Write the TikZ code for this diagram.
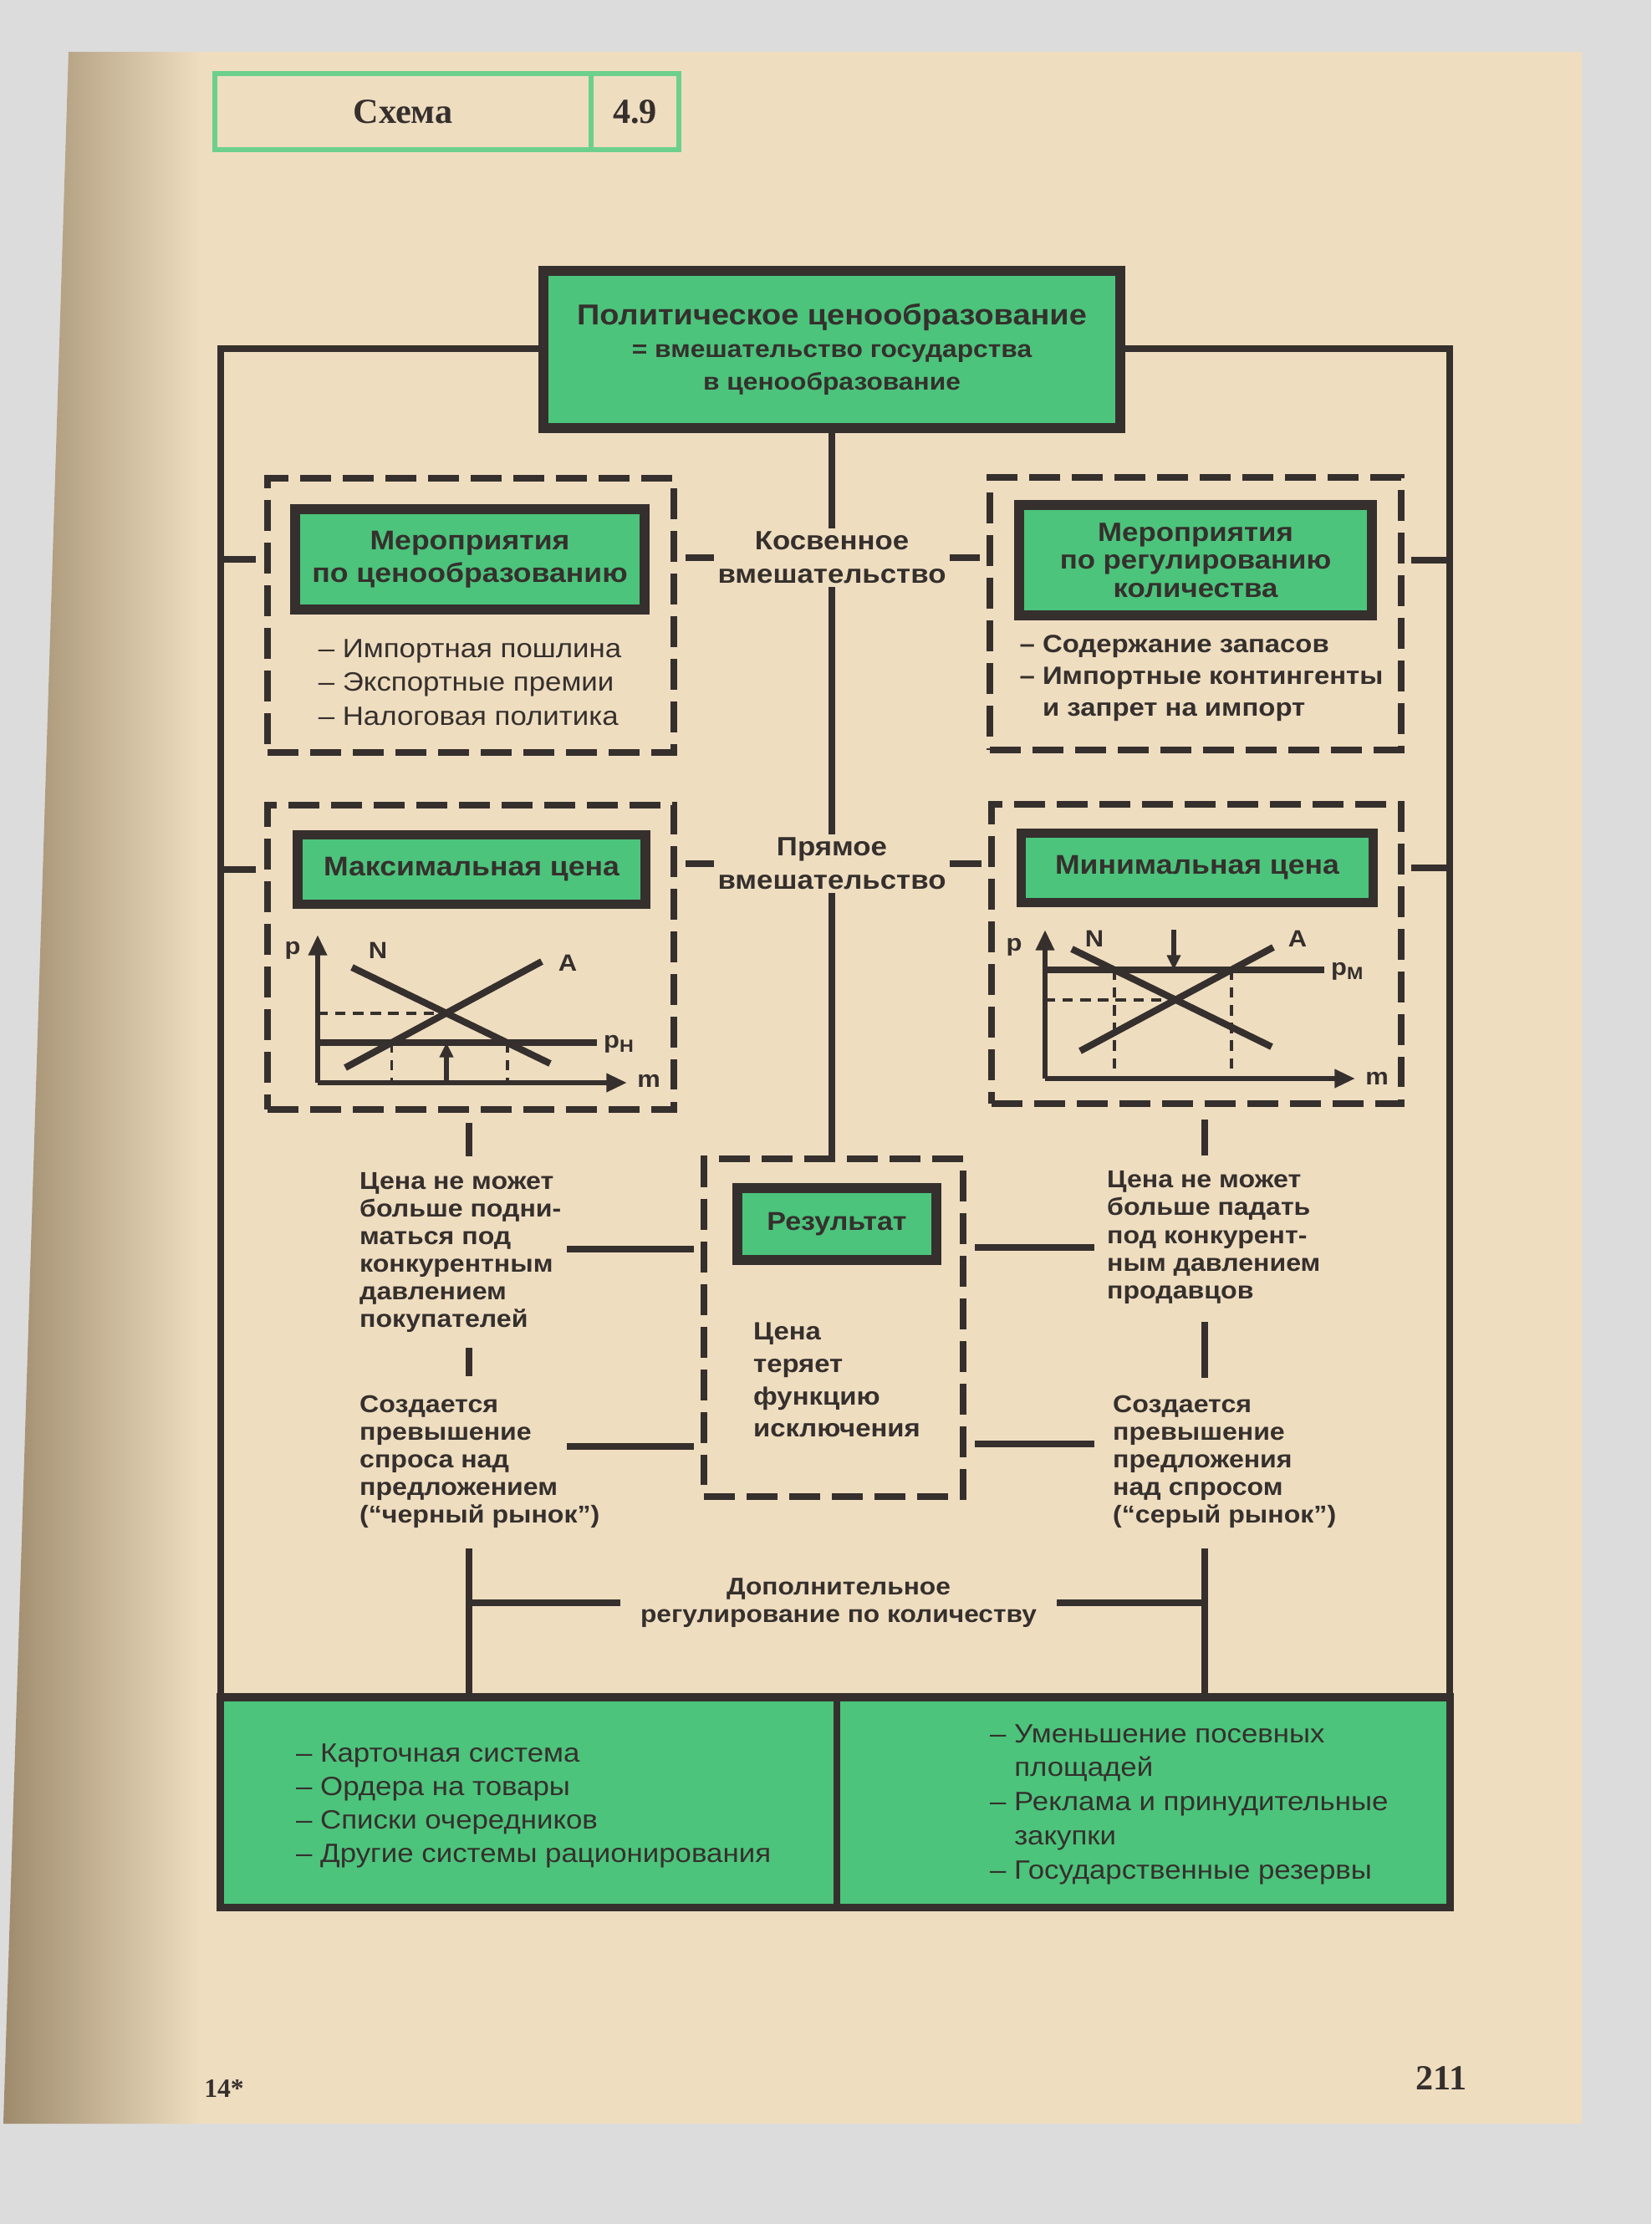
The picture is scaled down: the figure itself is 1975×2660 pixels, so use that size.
\documentclass[tikz,border=0pt]{standalone}
\usepackage{fontspec}
\setmainfont{Liberation Sans}[FakeStretch=1.1]
\newfontfamily\serifcab{Liberation Serif}
\usetikzlibrary{arrows.meta, positioning}
\definecolor{colorVerde}{HTML}{4CC47C}
\definecolor{colorCabecera}{HTML}{6CD08C}
\definecolor{colorPapel}{HTML}{EFDDC0}
\definecolor{colorSombra}{HTML}{9E8B6E}
\definecolor{colorFondo}{HTML}{DCDCDC}
\definecolor{colorTinta}{HTML}{35302D}

\begin{document}
\begin{tikzpicture}[x=0.01cm, y=-0.01cm,
        every node/.style={text=colorTinta, inner sep=1pt},
        caja/.style={draw=colorTinta, fill=colorVerde, line width=3.3pt, align=center,
            font=\bfseries\fontsize{9.2}{11}\selectfont},
        zona/.style={draw=colorTinta, line width=2.3pt, dash pattern=on 10.5pt off 4pt},
        rel/.style={colorTinta, line width=2.3pt},
        etiq/.style={align=center, font=\bfseries\fontsize{9}{11.4}\selectfont},
        texto/.style={align=left, font=\bfseries\fontsize{8.3}{9.4}\selectfont},
        lista/.style={align=left, font=\fontsize{9}{11.4}\selectfont},
        eje/.style={colorTinta, line width=1.8pt, -{Triangle[length=7pt, width=6pt]}},
        curva/.style={colorTinta, line width=2.3pt},
        guia/.style={colorTinta, line width=1.1pt, dash pattern=on 3.5pt off 2.5pt},
        flecha/.style={colorTinta, line width=1.5pt, -{Triangle[length=5pt, width=4.5pt]}},
        marca/.style={font=\bfseries\fontsize{8}{9}\selectfont}
    ]
    % fondo y pagina
    \fill[colorFondo] (0,0) rectangle (1975,2660);
    \fill[colorPapel] (82,62) -- (1892,62) -- (1892,2540) -- (4,2540) -- cycle;
    \shade[left color=colorSombra, right color=colorPapel] (82,62) -- (240,62) -- (240,2540) -- (4,2540) -- cycle;

    % cabecera
    \node[draw=colorCabecera, line width=1.5pt, minimum width=4.5cm, minimum height=0.91cm,
        font=\serifcab\bfseries\fontsize{12}{14}\selectfont] (esquema) at (482,133.5) {Схема};
    \node[draw=colorCabecera, line width=1.5pt, minimum width=1.05cm, minimum height=0.91cm,
        font=\serifcab\bfseries\fontsize{12}{14}\selectfont] (numero) at (759.5,133.5) {4.9};

    % cajas
    \node[caja, minimum width=6.9cm, minimum height=1.88cm, font=\bfseries\fontsize{8.2}{11}\selectfont] (polit) at (995,418)
        {{\fontsize{9.8}{11}\selectfont Политическое ценообразование}\\= вмешательство государства\\в ценообразование};

    \node[zona, minimum width=4.86cm, minimum height=3.27cm] (zonaPrecio) at (563,736) {};
    \node[caja, minimum width=4.18cm, minimum height=1.2cm] (mPrecio) at (562,669) {Мероприятия\\по ценообразованию};
    \node[lista, below=0.26cm of mPrecio] (lPrecio) {– Импортная пошлина\\– Экспортные премии\\– Налоговая политика};

    \node[zona, minimum width=4.91cm, minimum height=3.25cm] (zonaKol) at (1430,734) {};
    \node[caja, minimum width=4.22cm, minimum height=1.32cm, font=\bfseries\fontsize{9}{9.5}\selectfont] (mKol) at (1430,670)
        {Мероприятия\\по регулированию\\количества};
    \node[lista, font=\bfseries\fontsize{8.5}{10.8}\selectfont, below=0.14cm of mKol, xshift=0.07cm] (lKol)
        {– Содержание запасов\\– Импортные контингенты\\\phantom{– }и запрет на импорт};

    \node[etiq] (indirecta) at (995,667) {Косвенное\\вмешательство};
    \node[etiq] (directa) at (995,1033) {Прямое\\вмешательство};

    \node[zona, minimum width=4.86cm, minimum height=3.64cm] (zonaMax) at (563,1145) {};
    \node[caja, minimum width=4.16cm, minimum height=0.83cm] (mMax) at (564,1040) {Максимальная цена};
    \node[zona, minimum width=4.9cm, minimum height=3.58cm] (zonaMin) at (1431,1141) {};
    \node[caja, minimum width=4.21cm, minimum height=0.83cm] (mMin) at (1432,1038) {Минимальная цена};

    \node[zona, minimum width=3.1cm, minimum height=4.03cm] (zonaRes) at (997,1588) {};
    \node[caja, minimum width=2.38cm, minimum height=0.86cm, font=\bfseries\fontsize{8.8}{11}\selectfont] (mRes) at (1001,1464) {Результат};
    \node[texto, font=\bfseries\fontsize{8.5}{11}\selectfont, below=0.65cm of mRes] (rRes) {Цена\\теряет\\функцию\\исключения};

    \node[texto, anchor=west] (subeNo) at (426,1498) {Цена не может\\больше подни-\\маться под\\конкурентным\\давлением\\покупателей};
    \node[texto, anchor=west] (deficit) at (426,1748) {Создается\\превышение\\спроса над\\предложением\\(“черный рынок”)};
    \node[texto, anchor=west] (bajaNo) at (1320,1480) {Цена не может\\больше падать\\под конкурент-\\ным давлением\\продавцов};
    \node[texto, anchor=west] (exceso) at (1327,1748) {Создается\\превышение\\предложения\\над спросом\\(“серый рынок”)};

    \node[etiq, font=\bfseries\fontsize{8.2}{9.4}\selectfont] (adicional) at (1003,1917) {Дополнительное\\регулирование по количеству};

    \node[draw=colorTinta, fill=colorVerde, line width=2.6pt, minimum width=14.7cm, minimum height=2.51cm] (bloque) at (999,2155.5) {};
    \node[lista, anchor=west] (racion) at (350,2160)
        {– Карточная система\\– Ордера на товары\\– Списки очередников\\– Другие системы рационирования};
    \node[lista, anchor=west, font=\fontsize{9}{11.6}\selectfont] (cantidad) at (1180,2158)
        {– Уменьшение посевных\\\phantom{– }площадей\\– Реклама и принудительные\\\phantom{– }закупки\\– Государственные резервы};

    % graficos
    \begin{scope}[shift={(380,1295)}]
        \draw[guia] (0,-83) -- (154,-83);
        \draw[guia] (88.5,-48) -- (88.5,0);
        \draw[guia] (226.6,-48) -- (226.6,0);
        \draw[curva] (0,-48) -- (334,-48);
        \draw[curva] (41,-138) -- (278,-23);
        \draw[curva] (33,-18) -- (268,-145);
        \draw[flecha] (154,0) -- (154,-48);
        \draw[eje] (0,0) -- (0,-177);
        \draw[eje] (0,0) -- (370,0);
        \node[marca] (pMax) at (-30,-158) {p};
        \node[marca] (nMax) at (72,-158) {N};
        \node[marca] (aMax) at (299,-143) {A};
        \node[marca] (mMaxEje) at (396,-2) {m};
        \node[marca, anchor=west] (phMax) at (338,-46) {p\textsubscript{H}};
    \end{scope}
    \begin{scope}[shift={(1250,1290)}]
        \draw[guia] (0,-94.3) -- (156,-94.3);
        \draw[guia] (83,-130) -- (83,-6);
        \draw[guia] (222.7,-130) -- (222.7,-6);
        \draw[curva] (0,-130) -- (334,-130);
        \draw[curva] (32,-155) -- (271,-38);
        \draw[curva] (42,-33) -- (273,-157);
        \draw[flecha] (154,-178) -- (154,-130);
        \draw[eje] (0,0) -- (0,-178);
        \draw[eje] (0,0) -- (371,0);
        \node[marca] (pMin) at (-37,-157) {p};
        \node[marca] (nMin) at (59,-167) {N};
        \node[marca] (aMin) at (302,-167) {A};
        \node[marca] (mMinEje) at (397,0) {m};
        \node[marca, anchor=west] (pmMin) at (338,-128) {p\textsubscript{M}};
    \end{scope}

    % pie de pagina
    \node[font=\serifcab\bfseries\fontsize{9}{10}\selectfont] (pieI) at (268,2498) {14*};
    \node[font=\serifcab\bfseries\fontsize{12}{14}\selectfont] (pieD) at (1724,2485) {211};

    % conexiones
    \coordinate (marcoI) at (264,417);
    \coordinate (marcoD) at (1734,417);
    \coordinate (colI) at (561,0);
    \coordinate (colD) at (1441,0);
    \coordinate (divB) at (1001,0);
    \coordinate (jSube) at (678,1494);
    \coordinate (jDef) at (678,1730);
    \coordinate (jBaja) at (1309,1492);
    \coordinate (jExc) at (1309,1727);
    \draw[rel] (polit.west |- marcoI) -- (marcoI) -- (marcoI |- bloque.north);
    \draw[rel] (polit.east |- marcoD) -- (marcoD) -- (marcoD |- bloque.north);
    \draw[rel] (polit.south) -- (indirecta.north);
    \draw[rel] (indirecta.south) -- (directa.north);
    \draw[rel] (directa.south) -- (directa.south |- zonaRes.north);
    \draw[rel, shorten >=0.1cm] (marcoI |- mPrecio.west) -- (zonaPrecio.west |- mPrecio.west);
    \draw[rel, shorten <=0.1cm] (zonaPrecio.east |- indirecta.west) -- (indirecta.west);
    \draw[rel, shorten >=0.08cm] (indirecta.east) -- (zonaKol.west |- indirecta.east);
    \draw[rel, shorten <=0.08cm] (zonaKol.east |- mKol.east) -- (marcoD |- mKol.east);
    \draw[rel, shorten >=0.1cm] (marcoI |- mMax.west) -- (zonaMax.west |- mMax.west);
    \draw[rel, shorten <=0.1cm] (zonaMax.east |- directa.west) -- (directa.west);
    \draw[rel, shorten >=0.08cm] (directa.east) -- (zonaMin.west |- directa.east);
    \draw[rel, shorten <=0.08cm] (zonaMin.east |- mMin.east) -- (marcoD |- mMin.east);
    \draw[rel, shorten <=0.12cm, shorten >=0.15cm] (zonaMax.south -| colI) -- (subeNo.north -| colI);
    \draw[rel, shorten <=0.14cm, shorten >=0.18cm] (subeNo.south -| colI) -- (deficit.north -| colI);
    \draw[rel, shorten <=0.2cm] (deficit.south -| colI) -- (bloque.north -| colI);
    \draw[rel, shorten <=0.15cm, shorten >=0.15cm] (zonaMin.south -| colD) -- (bajaNo.north -| colD);
    \draw[rel, shorten <=0.18cm, shorten >=0.16cm] (bajaNo.south -| colD) -- (exceso.north -| colD);
    \draw[rel, shorten <=0.2cm] (exceso.south -| colD) -- (bloque.north -| colD);
    \draw[rel, shorten >=0.08cm] (jSube) -- (jSube -| zonaRes.west);
    \draw[rel, shorten >=0.08cm] (jDef) -- (jDef -| zonaRes.west);
    \draw[rel, shorten <=0.1cm] (jBaja -| zonaRes.east) -- (jBaja);
    \draw[rel, shorten <=0.1cm] (jExc -| zonaRes.east) -- (jExc);
    \draw[rel, shorten >=0.2cm] (adicional.west -| colI) -- (adicional.west);
    \draw[rel, shorten >=0.2cm] (adicional.east -| colD) -- (adicional.east);
    \draw[rel] (bloque.north -| divB) -- (bloque.south -| divB);
\end{tikzpicture}
\end{document}
